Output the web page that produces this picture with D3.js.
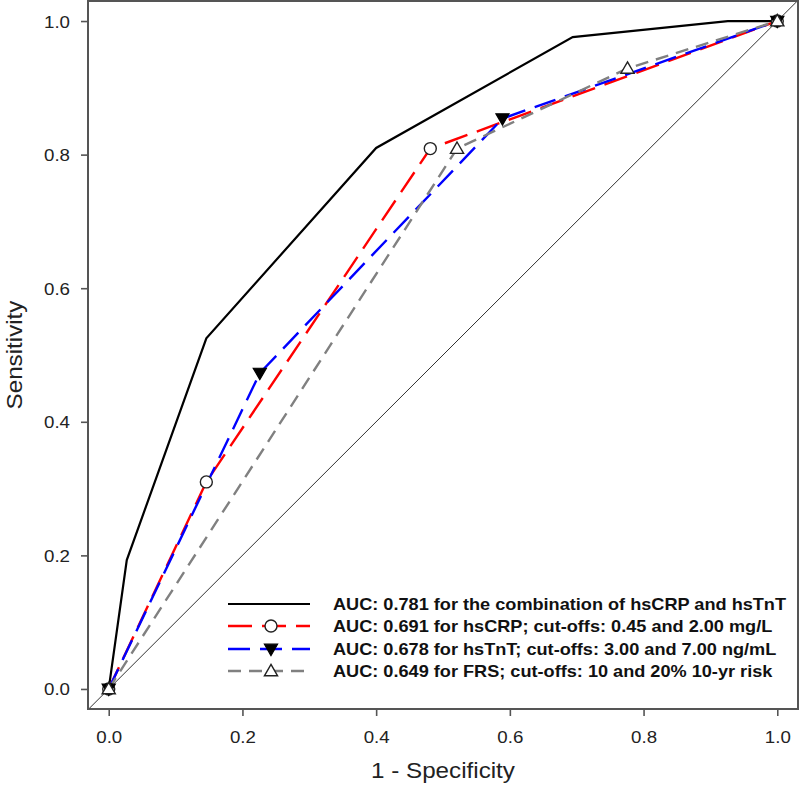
<!DOCTYPE html>
<html>
<head>
<meta charset="utf-8">
<script src="https://cdn.jsdelivr.net/npm/d3@7"></script>
<style>
  body { margin: 0; background: #fff; }
  svg { display: block; }
  text { font-family: Arial, "Liberation Sans", sans-serif; }
</style>
</head>
<body>
<svg id="chart" width="800" height="791"></svg>
<script>
// ---- Data ----
const comboFPR = [0, 0.027, 0.146, 0.40, 0.694, 0.926, 1.0];
const comboTPR = [0, 0.193, 0.525, 0.81, 0.976, 1.0, 1.0];

const crpFPR = [0, 0.146, 0.481, 1.0];
const crpTPR = [0, 0.310, 0.809, 1.0];

const tntFPR = [0, 0.226, 0.589, 1.0];
const tntTPR = [0, 0.473, 0.854, 1.0];

const frsFPR = [0, 0.521, 0.776, 1.0];
const frsTPR = [0, 0.809, 0.929, 1.0];

const tickValues = [0.0, 0.2, 0.4, 0.6, 0.8, 1.0];
const xTitle = "1 - Specificity";
const yTitle = "Sensitivity";
const legendLabels = [
  "AUC: 0.781 for the combination of hsCRP and hsTnT",
  "AUC: 0.691 for hsCRP; cut-offs: 0.45 and 2.00 mg/L",
  "AUC: 0.678 for hsTnT; cut-offs: 3.00 and 7.00 ng/mL",
  "AUC: 0.649 for FRS; cut-offs: 10 and 20% 10-yr risk"
];

// ---- Layout ----
const svg = d3.select("#chart");
const L = 88, R = 798, T = 1, B = 709;
const x = d3.scaleLinear().domain([-0.031, 1.031]).range([L, R]);
const y = d3.scaleLinear().domain([-0.03, 1.03]).range([B, T]);
const SX = 1.1; // horizontal stretch of text in the reference

const zip = (a, b) => a.map((v, i) => [v, b[i]]);
const series = [
  { pts: zip(comboFPR, comboTPR), color: "#000", dash: null, width: 2.2, marker: null },
  { pts: zip(crpFPR, crpTPR), color: "#ff0000", dash: "24,10", width: 2.4, marker: "circle" },
  { pts: zip(tntFPR, tntTPR), color: "#0000ff", dash: "22,10", width: 2.4, marker: "down" },
  { pts: zip(frsFPR, frsTPR), color: "#808080", dash: "13,8", width: 2.4, marker: "up" }
];

// clip
svg.append("defs").append("clipPath").attr("id", "plotclip")
  .append("rect").attr("x", L).attr("y", T).attr("width", R - L).attr("height", B - T);

const plot = svg.append("g").attr("clip-path", "url(#plotclip)");

// reference diagonal
plot.append("line")
  .attr("x1", x(-0.05)).attr("y1", y(-0.05))
  .attr("x2", x(1.05)).attr("y2", y(1.05))
  .attr("stroke", "#333").attr("stroke-width", 1);

const line = d3.line().x(d => x(d[0])).y(d => y(d[1]));

series.forEach(s => {
  plot.append("path")
    .attr("d", line(s.pts))
    .attr("fill", "none")
    .attr("stroke", s.color)
    .attr("stroke-width", s.width)
    .attr("stroke-dasharray", s.dash)
    .attr("stroke-linejoin", "miter");
});

function drawMarker(g, type, cx, cy) {
  if (type === "circle") {
    g.append("circle").attr("cx", cx).attr("cy", cy).attr("r", 6)
      .attr("fill", "#fff").attr("stroke", "#222").attr("stroke-width", 1.4);
  } else if (type === "up") {
    const sym = d3.symbol().type(d3.symbolTriangle).size(75);
    g.append("path").attr("d", sym()).attr("transform", `translate(${cx},${cy + 1})`)
      .attr("fill", "#fff").attr("stroke", "#222").attr("stroke-width", 1.4);
  } else if (type === "down") {
    const sym = d3.symbol().type(d3.symbolTriangle).size(75);
    g.append("path").attr("d", sym()).attr("transform", `translate(${cx},${cy - 1}) rotate(180)`)
      .attr("fill", "#000").attr("stroke", "#000").attr("stroke-width", 1.2);
  }
}

const markers = svg.append("g");
series.forEach(s => {
  if (!s.marker) return;
  s.pts.forEach(p => drawMarker(markers, s.marker, x(p[0]), y(p[1])));
});

// frame
svg.append("rect").attr("x", L).attr("y", T).attr("width", R - L).attr("height", B - T)
  .attr("fill", "none").attr("stroke", "#555").attr("stroke-width", 2);

// axes
const xAxis = d3.axisBottom(x).tickValues(tickValues).tickFormat(d3.format(".1f"))
  .tickSize(7).tickPadding(0);
const yAxis = d3.axisLeft(y).tickValues(tickValues).tickFormat(d3.format(".1f"))
  .tickSize(7).tickPadding(0);

const gx = svg.append("g").attr("transform", `translate(0,${B})`).call(xAxis);
const gy = svg.append("g").attr("transform", `translate(${L},0)`).call(yAxis);
[gx, gy].forEach(g => {
  g.select(".domain").remove();
  g.selectAll(".tick line").attr("stroke", "#555").attr("stroke-width", 1.6);
  g.selectAll(".tick text").attr("fill", "#222").style("font-size", "17px");
});
gx.selectAll(".tick text").attr("dy", null).attr("y", 0)
  .attr("transform", `translate(0,34) scale(${SX},1)`);
gy.selectAll(".tick text").attr("dy", null).attr("x", 0)
  .attr("transform", `translate(-18,6) scale(${SX},1)`);

// axis titles
svg.append("text")
  .attr("transform", `translate(${(x(0) + x(1)) / 2},778) scale(${SX},1)`)
  .attr("text-anchor", "middle").style("font-size", "22px").attr("fill", "#222")
  .text(xTitle);
svg.append("text")
  .attr("transform", `translate(22,${(y(0) + y(1)) / 2}) scale(1,${SX}) rotate(-90)`)
  .attr("text-anchor", "middle").style("font-size", "22px").attr("fill", "#222")
  .text(yTitle);

// legend
const legend = svg.append("g");
const rowY = [604, 626, 649, 671];
series.forEach((s, i) => {
  const yy = rowY[i];
  legend.append("line")
    .attr("x1", 228).attr("x2", 310).attr("y1", yy).attr("y2", yy)
    .attr("stroke", s.color).attr("stroke-width", s.width)
    .attr("stroke-dasharray", s.dash);
  if (s.marker) drawMarker(legend, s.marker, 271, yy);
  legend.append("text")
    .attr("transform", `translate(333,${yy + 6}) scale(${SX},1)`)
    .style("font-size", "16.5px").style("font-weight", "bold").attr("fill", "#111")
    .text(legendLabels[i]);
});
</script>
</body>
</html>
